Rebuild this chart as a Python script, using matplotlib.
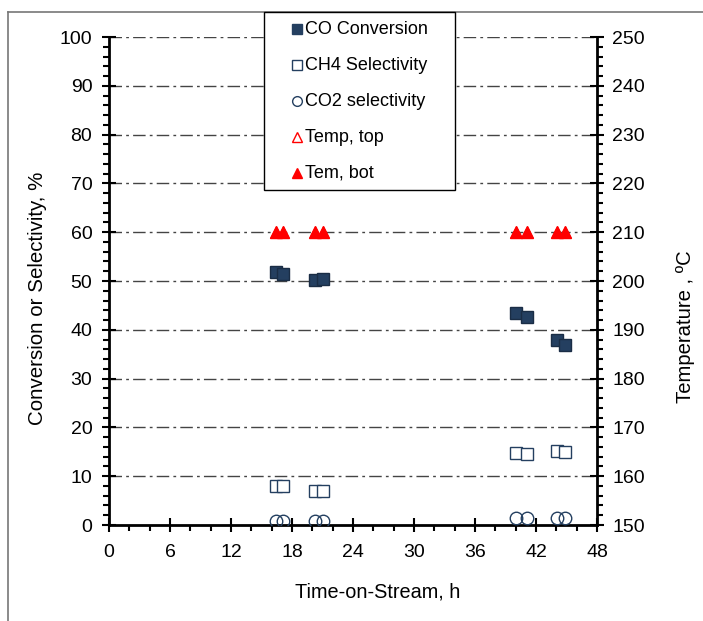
import matplotlib
matplotlib.use("Agg")
import matplotlib.pyplot as plt
from matplotlib.lines import Line2D
from matplotlib.patches import Rectangle
from matplotlib.ticker import MultipleLocator

plt.rcParams['font.family'] = ['Liberation Sans', 'DejaVu Sans']

# Time-on-stream (h) for each measurement
time_h = [16.4, 17.1, 20.3, 21.0, 40.0, 41.1, 44.1, 44.9]
co_conversion = [51.9, 51.4, 50.3, 50.5, 43.5, 42.7, 38.0, 36.9]
ch4_selectivity = [7.9, 7.9, 7.0, 7.0, 14.7, 14.5, 15.2, 15.0]
co2_selectivity = [0.9, 0.8, 0.8, 0.8, 1.5, 1.4, 1.5, 1.4]
temp_top = [210, 210, 210, 210, 210, 210, 210, 210]
temp_bot = [210, 210, 210, 210, 210, 210, 210, 210]
series_labels = ['CO Conversion', 'CH4 Selectivity', 'CO2 selectivity',
                 'Temp, top', 'Tem, bot']

x_ticks = [0, 6, 12, 18, 24, 30, 36, 42, 48]
navy = '#243f60'

W, H = 703, 621
fig = plt.figure(figsize=(W / 100, H / 100), dpi=100)
ax = fig.add_axes([109 / W, 1 - 525 / H, 488 / W, 488 / H])
ax2 = ax.twinx()

# horizontal dash-dot grid
for y in range(10, 101, 10):
    ax.axhline(y, color='#444444', lw=1.0, ls=(0, (9, 3, 2, 3)), zorder=0)

ax.plot(time_h, co_conversion, ls='none', marker='s', ms=9, mfc=navy,
        mec='#1a2d45', mew=1.0, zorder=3)
ax.plot(time_h, ch4_selectivity, ls='none', marker='s', ms=9, mfc='white',
        mec=navy, mew=1.0, zorder=3)
ax.plot(time_h, co2_selectivity, ls='none', marker='o', ms=9, mfc='none',
        mec=navy, mew=1.0, zorder=3)
ax2.plot(time_h, temp_top, ls='none', marker='^', ms=9, mfc='white',
         mec='red', mew=1.0, zorder=3)
ax2.plot(time_h, temp_bot, ls='none', marker='^', ms=9, mfc='red',
         mec='red', mew=0.5, zorder=4)

ax.set_xlim(0, 48)
ax.set_ylim(0, 100)
ax2.set_ylim(150, 250)
ax.set_xticks(x_ticks)
ax.xaxis.set_minor_locator(MultipleLocator(2))
ax.yaxis.set_major_locator(MultipleLocator(10))
ax.yaxis.set_minor_locator(MultipleLocator(2))
ax2.yaxis.set_major_locator(MultipleLocator(10))
ax2.yaxis.set_minor_locator(MultipleLocator(2))

for a in (ax, ax2):
    for s in a.spines.values():
        s.set_linewidth(2.0)
        s.set_color('black')
    a.spines['top'].set_visible(False)
ax.spines['right'].set_visible(False)
ax2.spines['left'].set_visible(False)
ax2.spines['bottom'].set_visible(False)

ax.tick_params(axis='both', which='major', direction='inout', length=10,
               width=1.5, labelsize=14, pad=9)
ax.tick_params(axis='y', which='major', pad=7)
ax.tick_params(axis='both', which='minor', direction='out', length=4, width=1.5)
ax2.tick_params(axis='y', which='major', direction='inout', length=10,
                width=1.5, labelsize=14, pad=6)
ax2.tick_params(axis='y', which='minor', direction='out', length=4, width=1.5)

ax.set_xlabel('Time-on-Stream, h', fontsize=14.3, labelpad=15)
ax.set_ylabel('Conversion or Selectivity, %', fontsize=14.8, labelpad=9)
ax2.set_ylabel('Temperature , ºC', fontsize=14.6, labelpad=22)
ax.xaxis.label.set_x(0.551)
ax.yaxis.label.set_y(0.465)
ax2.yaxis.label.set_y(0.406)

# legend: fixed white box with the five series keys
fig.add_artist(Rectangle((264 / W, 1 - 190 / H), 191 / W, 178 / H,
                         transform=fig.transFigure, facecolor='white',
                         edgecolor='black', lw=1.0, zorder=9))
leg_handles = [
    Line2D([], [], ls='none', marker='s', ms=7, mfc=navy, mec=navy),
    Line2D([], [], ls='none', marker='s', ms=7, mfc='white', mec=navy),
    Line2D([], [], ls='none', marker='o', ms=7, mfc='white', mec=navy),
    Line2D([], [], ls='none', marker='^', ms=7, mfc='white', mec='red'),
    Line2D([], [], ls='none', marker='^', ms=7, mfc='red', mec='red'),
]
row_y = [29, 65, 101, 137, 173]
for hnd, lab, yy in zip(leg_handles, series_labels, row_y):
    fig.add_artist(Line2D([297 / W], [1 - yy / H], transform=fig.transFigure,
                          ls='none', marker=hnd.get_marker(), ms=7,
                          mfc=hnd.get_markerfacecolor(),
                          mec=hnd.get_markeredgecolor(), zorder=10))
    fig.text(305 / W, 1 - yy / H, lab, fontsize=13, va='center', ha='left',
             zorder=11)

# outer frame around the chart area
fig.add_artist(Line2D([8 / W, 8 / W], [0, 1 - 12 / H],
                      transform=fig.transFigure, color='#777777', lw=1.2))
fig.add_artist(Line2D([8 / W, 1], [1 - 12 / H, 1 - 12 / H],
                      transform=fig.transFigure, color='#777777', lw=1.2))

fig.savefig('out.png', dpi=100)
